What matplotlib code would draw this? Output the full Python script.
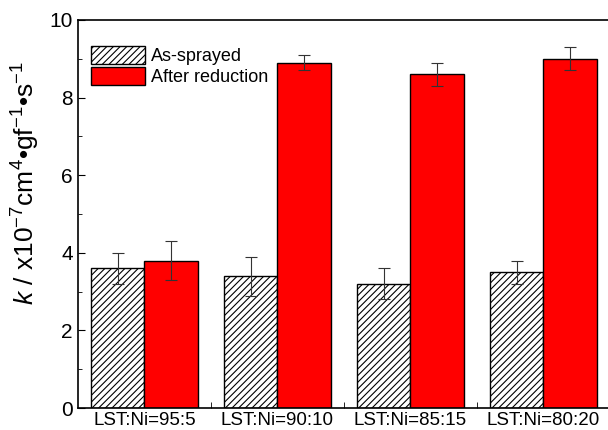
import matplotlib
matplotlib.use('Agg')
import matplotlib.pyplot as plt
import numpy as np

categories = ['LST:Ni=95:5', 'LST:Ni=90:10', 'LST:Ni=85:15', 'LST:Ni=80:20']
as_sprayed = [3.6, 3.4, 3.2, 3.5]
as_sprayed_err = [0.4, 0.5, 0.4, 0.3]
after_red = [3.8, 8.9, 8.6, 9.0]
after_red_err = [0.5, 0.2, 0.3, 0.3]

plt.rcParams['font.family'] = ['Liberation Sans', 'DejaVu Sans']
plt.rcParams['mathtext.fontset'] = 'custom'
plt.rcParams['mathtext.rm'] = 'Liberation Sans'
plt.rcParams['mathtext.it'] = 'Liberation Sans:italic'
plt.rcParams['hatch.linewidth'] = 0.8

fig = plt.figure(figsize=(6.08, 4.3), dpi=100)
ax = fig.add_axes([0.128, 0.051, 0.875, 0.9025])

x = np.arange(len(categories))
w = 0.4
ekw = dict(ecolor='#333333', elinewidth=0.8, capsize=4, capthick=0.8)
ax.bar(x - w / 2, as_sprayed, w, yerr=as_sprayed_err, color='white',
       edgecolor='black', hatch='/////', linewidth=1, label='As-sprayed',
       error_kw=ekw)
ax.bar(x + w / 2, after_red, w, yerr=after_red_err, color='#ff0000',
       edgecolor='black', linewidth=1, label='After reduction',
       error_kw=ekw)

ax.set_xlim(-0.5, 3.5)
ax.set_ylim(0, 10)
ax.set_yticks([0, 2, 4, 6, 8, 10])
ax.set_yticks([1, 3, 5, 7, 9], minor=True)
ax.set_xticks(x)
ax.set_xticklabels(categories, fontsize=13.5)
ax.set_xticks([0.5, 1.5, 2.5], minor=True)
ax.tick_params(axis='x', which='major', length=0, pad=3)
ax.tick_params(axis='x', which='minor', direction='in', length=4)
ax.tick_params(axis='y', which='both', direction='in', labelsize=15)
ax.tick_params(axis='y', which='major', length=5)
ax.tick_params(axis='y', which='minor', length=3)
for s in ax.spines.values():
    s.set_linewidth(1.2)

ax.set_ylabel(r'$k$ / x10$^{-7}$cm$^{4}$•gf$^{-1}$•s$^{-1}$', fontsize=19)
ax.yaxis.set_label_coords(-0.068, 0.58)

ax.legend(loc='upper left', bbox_to_anchor=(0.005, 0.96), frameon=False,
          fontsize=13, handlelength=3.0, handleheight=1.1, labelspacing=0.12,
          handletextpad=0.3, borderaxespad=0.2)

fig.savefig('out.png', dpi=100)
